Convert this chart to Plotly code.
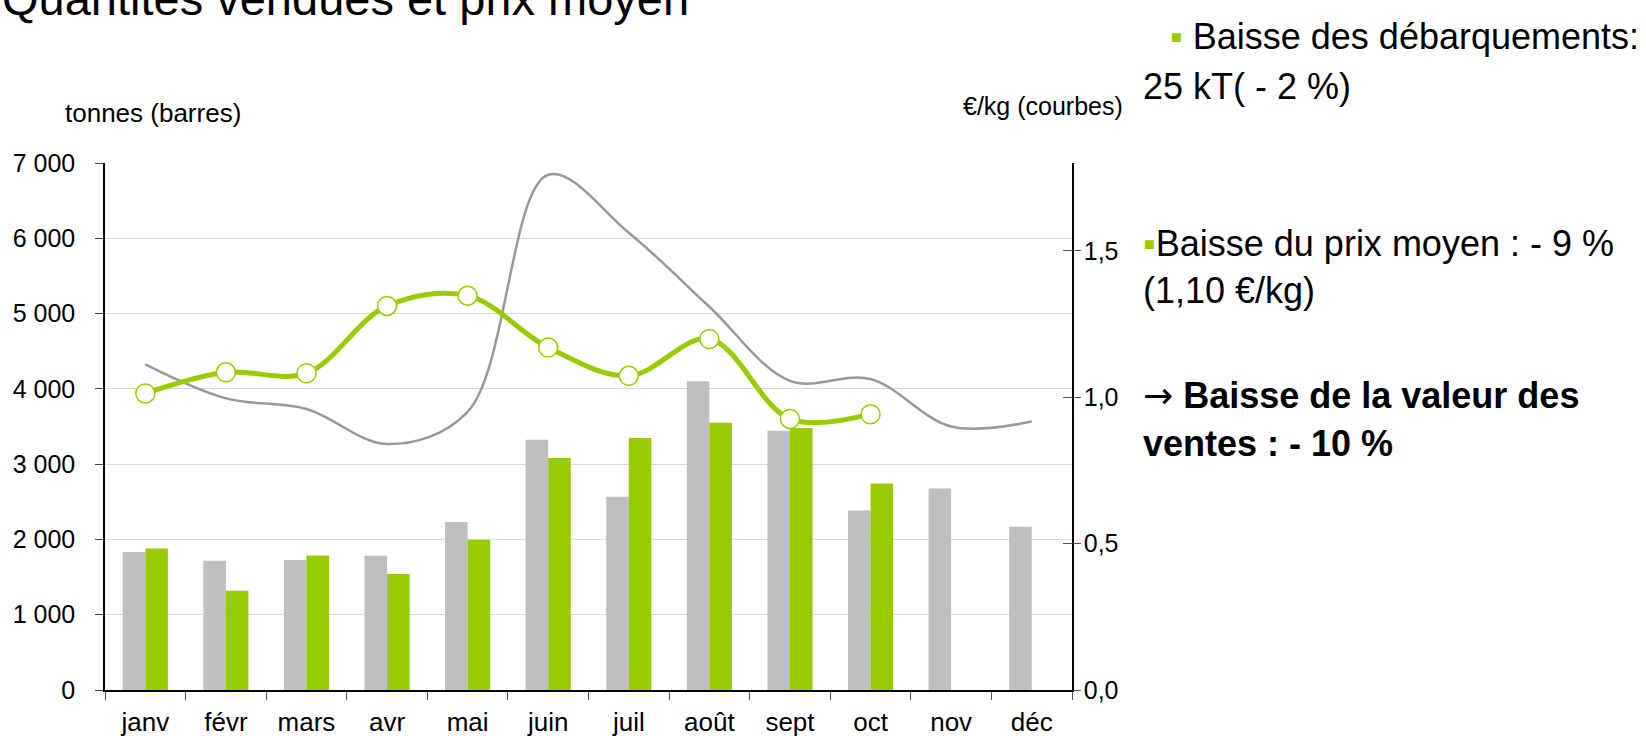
import plotly.graph_objects as go

# ---------------- data ----------------
months = ['janv', 'févr', 'mars', 'avr', 'mai', 'juin', 'juil', 'août', 'sept', 'oct', 'nov', 'déc']
qty_prev = [1833, 1718, 1727, 1783, 2232, 3323, 2567, 4101, 3445, 2385, 2677, 2167]
qty_curr = [1879, 1318, 1788, 1541, 1995, 3081, 3348, 3551, 3480, 2742, None, None]
price_prev = [1.112, 0.996, 0.960, 0.840, 0.950, 1.760, 1.562, 1.309, 1.056, 1.062, 0.900, 0.917]
price_curr = [1.013, 1.085, 1.082, 1.312, 1.347, 1.170, 1.073, 1.199, 0.926, 0.942, None, None]

left_ticks = [0, 1000, 2000, 3000, 4000, 5000, 6000, 7000]
right_ticks = [0.0, 0.5, 1.0, 1.5]

GRAY = '#bfbfbf'
GREEN = '#99cc00'
LINE_GRAY = '#999999'
FONT = 'Liberation Sans, Arial, sans-serif'

# plot area in pixels
L, R, T, B = 105, 1072, 163, 690
W, H = 1646, 736


def px_x(x):
    return (x - L) / (R - L)


def px_y(y):
    return (B - y) / (B - T)


fig = go.Figure()
fig.add_trace(go.Bar(x=months, y=qty_prev, marker=dict(color=GRAY, line=dict(width=0)),
                     name='N-1', yaxis='y'))
fig.add_trace(go.Bar(x=months, y=qty_curr, marker=dict(color=GREEN, line=dict(width=0)),
                     name='N', yaxis='y'))
fig.add_trace(go.Scatter(x=months, y=price_prev, mode='lines', yaxis='y2',
                         line=dict(color=LINE_GRAY, width=2.5, shape='spline', smoothing=1.0),
                         name='prix N-1'))
fig.add_trace(go.Scatter(x=months, y=price_curr, mode='lines+markers', yaxis='y2',
                         line=dict(color=GREEN, width=5, shape='spline', smoothing=1.0),
                         marker=dict(size=19, color='white', line=dict(color=GREEN, width=1.5)),
                         name='prix N'))
# helper traces so the extra tick axes (crossing ticks on the right axis) are drawn
fig.add_trace(go.Scatter(x=[months[0]], y=[None], yaxis='y3', showlegend=False, hoverinfo='skip'))
fig.add_trace(go.Scatter(x=[months[0]], y=[None], yaxis='y4', showlegend=False, hoverinfo='skip'))

fig.update_layout(
    width=W, height=H,
    margin=dict(l=L, r=W - R, t=T, b=H - B, pad=0, autoexpand=False),
    paper_bgcolor='white', plot_bgcolor='white',
    font=dict(family=FONT, color='black', size=25),
    separators=', ',
    barmode='group', bargap=0.44, bargroupgap=0,
    showlegend=False,
    xaxis=dict(
        type='category', range=[-0.5, 11.5], autorange=False, automargin=False,
        showline=True, linecolor='black', linewidth=1.5,
        ticks='outside', ticklen=8, tickcolor='#555555', tickwidth=1.3,
        tickson='boundaries', showgrid=False, tickfont=dict(size=26),
        ticklabelstandoff=8, zeroline=False,
    ),
    yaxis=dict(
        range=[0, 7000], tickvals=left_ticks, tickformat=',d', automargin=False,
        showline=True, linecolor='black', linewidth=1.5,
        ticks='outside', ticklen=8, tickcolor='#444444', tickwidth=1.3,
        showgrid=True, gridcolor='#d9d9d9', gridwidth=1.3,
        zeroline=False, tickfont=dict(size=25), ticklabelstandoff=15,
    ),
    yaxis2=dict(
        range=[0, 1.8], tickvals=right_ticks, tickformat='.1f', automargin=False,
        overlaying='y', side='right', anchor='x',
        showline=True, linecolor='black', linewidth=1.5,
        ticks='', showgrid=False, zeroline=False, tickfont=dict(size=25),
        ticklabelstandoff=5,
    ),
    yaxis3=dict(
        range=[0, 1.8], tickvals=right_ticks, overlaying='y', side='right', anchor='x',
        showline=False, ticks='inside', ticklen=9, tickcolor='#555555', tickwidth=1.3,
        showticklabels=False, showgrid=False, zeroline=False, automargin=False,
    ),
    yaxis4=dict(
        range=[0, 1.8], tickvals=right_ticks, overlaying='y', side='right', anchor='x',
        showline=False, ticks='outside', ticklen=8, tickcolor='#555555', tickwidth=1.3,
        showticklabels=False, showgrid=False, zeroline=False, automargin=False,
    ),
)

ann = []
# title (partly cut at the top, as in the reference)
ann.append(dict(text='Quantités vendues et prix moyen', x=px_x(0), y=px_y(-1),
                font=dict(size=47, family=FONT, color='black')))
# axis titles
ann.append(dict(text='tonnes (barres)', x=px_x(63), y=px_y(113),
                font=dict(size=26, family=FONT)))
ann.append(dict(text='€/kg (courbes)', x=px_x(1125), y=px_y(106), xanchor='right',
                font=dict(size=25, family=FONT)))

bullet = "<span style='color:%s'>▪</span>" % GREEN
arrow = "<span style='font-family:DejaVu Sans;font-weight:normal'>→</span>"
side_lines = [
    (bullet + ' Baisse des débarquements:', 1168, 36),
    ('25 kT( - 2 %)', 1141, 86),
    (bullet + 'Baisse du prix moyen : - 9 %', 1141, 243),
    ('(1,10 €/kg)', 1141, 290),
    ('<b>' + arrow + ' Baisse de la valeur des</b>', 1141, 395),
    ('<b>ventes : - 10 %</b>', 1141, 443),
]
for txt, xp, yp in side_lines:
    ann.append(dict(text=txt, x=px_x(xp), y=px_y(yp),
                    font=dict(size=36, family=FONT, color='black')))

for a in ann:
    a.setdefault('xanchor', 'left')
    a.update(xref='paper', yref='paper', yanchor='middle', showarrow=False)

fig.update_layout(annotations=ann)
fig.write_html('out.html', config={'displayModeBar': False},
               post_script="document.body.style.margin='0';document.body.style.overflow='hidden';")
